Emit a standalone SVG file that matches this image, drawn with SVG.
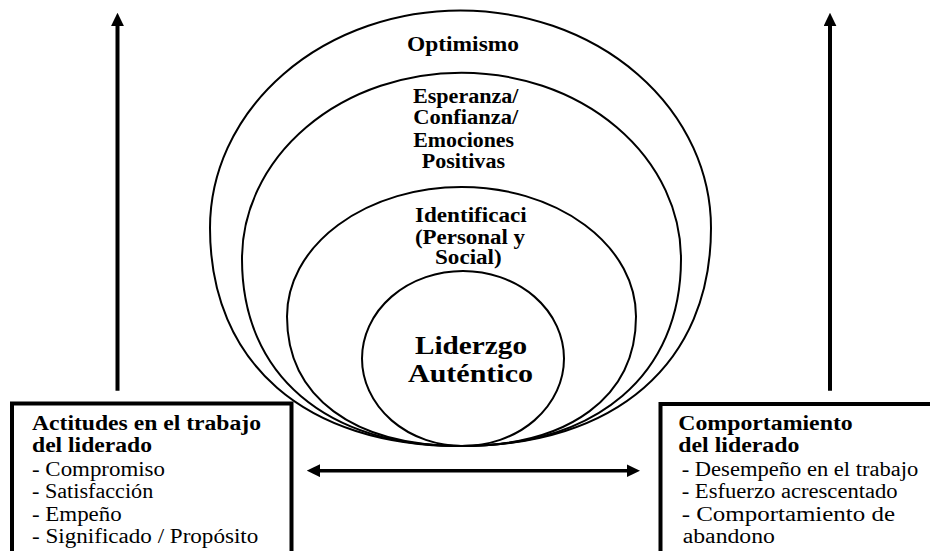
<svg xmlns="http://www.w3.org/2000/svg" width="930" height="551" viewBox="0 0 930 551">
  <style>
    .ring { fill: none; stroke: #000; stroke-width: 2; }
    .box { fill: #fff; stroke: #000; stroke-width: 4; }
    .shaft { fill: none; stroke: #000; stroke-width: 4; }
    .shaft-h { fill: none; stroke: #000; stroke-width: 3.5; }
    text { font-family: "Liberation Serif", "Times New Roman", serif; fill: #000; }
    .lvl { font-size: 20px; font-weight: bold; }
    .core { font-size: 26px; font-weight: bold; }
    .title { font-size: 20px; font-weight: bold; }
    .item { font-size: 20px; }
  </style>
  <defs>
    <marker id="head" viewBox="0 0 13.5 13" refX="5" refY="6.5" markerWidth="13.5" markerHeight="13" markerUnits="userSpaceOnUse" orient="auto-start-reverse">
      <path d="M0,0 L13.5,6.5 L0,13 Z" fill="#000"/>
    </marker>
  </defs>
  <rect width="930" height="551" fill="#fff"/>

  <!-- nested levels, all touching at the bottom point -->
  <g id="optimismo">
    <path class="ring" d="M210,228 A250.5,217.5 0 0 1 711,228 C711,363.2 615.8,446 460.5,446 C305.2,446 210,363.2 210,228 Z"/>
    <text class="lvl" x="407" y="50.7" textLength="112" lengthAdjust="spacingAndGlyphs">Optimismo</text>
  </g>
  <g id="esperanza">
    <path class="ring" d="M242,259 A219.5,186.3 0 0 1 681,259 C681,374.9 597.6,446 461.5,446 C325.4,446 242,374.9 242,259 Z"/>
    <text class="lvl" x="413" y="103.3" textLength="105.5" lengthAdjust="spacingAndGlyphs">Esperanza/</text>
    <text class="lvl" x="413.3" y="124.3" textLength="105" lengthAdjust="spacingAndGlyphs">Confianza/</text>
    <text class="lvl" x="413.3" y="146.7" textLength="100.7" lengthAdjust="spacingAndGlyphs">Emociones</text>
    <text class="lvl" x="421.7" y="168.3" textLength="83.3" lengthAdjust="spacingAndGlyphs">Positivas</text>
  </g>
  <g id="identificacion">
    <path class="ring" d="M287,316.5 A174.5,129.5 0 0 1 636,316.5 C636,396.8 569.7,446 461.5,446 C353.3,446 287,396.8 287,316.5 Z"/>
    <text class="lvl" x="415" y="222.3" textLength="111.7" lengthAdjust="spacingAndGlyphs">Identificaci</text>
    <text class="lvl" x="415" y="244.3" textLength="110" lengthAdjust="spacingAndGlyphs">(Personal y</text>
    <text class="lvl" x="435" y="264" textLength="66.7" lengthAdjust="spacingAndGlyphs">Social)</text>
  </g>
  <g id="liderazgo">
    <ellipse class="ring" cx="463" cy="358.5" rx="101" ry="87.5"/>
    <text class="core" x="415" y="354.3" textLength="112" lengthAdjust="spacingAndGlyphs">Liderzgo</text>
    <text class="core" x="408" y="381.7" textLength="125" lengthAdjust="spacingAndGlyphs">Auténtico</text>
  </g>

  <g id="connectors">
    <line class="shaft" x1="117.5" y1="390.7" x2="117.5" y2="21.2" marker-end="url(#head)"/>
    <line class="shaft" x1="830" y1="390.7" x2="830" y2="21.2" marker-end="url(#head)"/>
    <line class="shaft-h" x1="315.2" y1="470.7" x2="631.5" y2="470.7" marker-start="url(#head)" marker-end="url(#head)"/>
  </g>

  <g id="actitudes">
    <rect class="box" x="12" y="403.5" width="279.5" height="170"/>
    <text class="title" x="32" y="430" textLength="229" lengthAdjust="spacingAndGlyphs">Actitudes en el trabajo</text>
    <text class="title" x="32" y="451.5" textLength="120" lengthAdjust="spacingAndGlyphs">del liderado</text>
    <text class="item" x="32" y="475.7" textLength="133" lengthAdjust="spacingAndGlyphs">- Compromiso</text>
    <text class="item" x="32" y="497.7" textLength="121.3" lengthAdjust="spacingAndGlyphs">- Satisfacción</text>
    <text class="item" x="32" y="521" textLength="89.7" lengthAdjust="spacingAndGlyphs">- Empeño</text>
    <text class="item" x="32" y="543" textLength="226.3" lengthAdjust="spacingAndGlyphs">- Significado / Propósito</text>
  </g>

  <g id="comportamiento">
    <rect class="box" x="660.5" y="404" width="300" height="170"/>
    <text class="title" x="678.3" y="430" textLength="174.4" lengthAdjust="spacingAndGlyphs">Comportamiento</text>
    <text class="title" x="678.3" y="451.5" textLength="121" lengthAdjust="spacingAndGlyphs">del liderado</text>
    <text class="item" x="681.7" y="475.7" textLength="236.6" lengthAdjust="spacingAndGlyphs">- Desempeño en el trabajo</text>
    <text class="item" x="681.7" y="497.7" textLength="216" lengthAdjust="spacingAndGlyphs">- Esfuerzo acrescentado</text>
    <text class="item" x="681.7" y="521" textLength="213.3" lengthAdjust="spacingAndGlyphs">- Comportamiento de</text>
    <text class="item" x="682.7" y="543" textLength="92.3" lengthAdjust="spacingAndGlyphs">abandono</text>
  </g>
</svg>
